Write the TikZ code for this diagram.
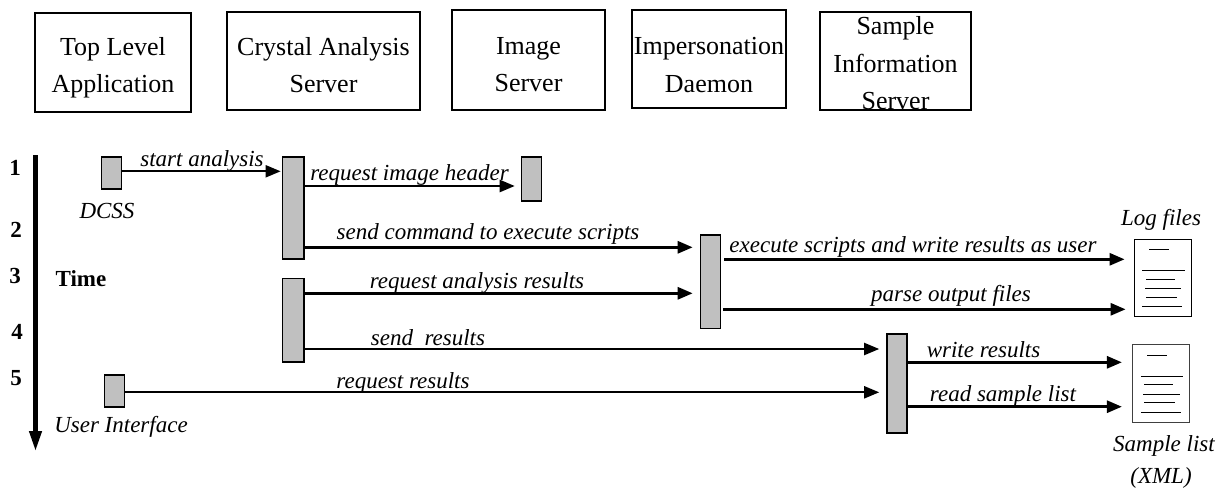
\documentclass[tikz,border=0pt]{standalone}
\usepackage{fontspec}
\setmainfont{Liberation Serif}
\usetikzlibrary{arrows.meta}
\newcommand{\drop}[1]{\rule{0pt}{#1pt}}

\begin{document}
\begin{tikzpicture}[
    x=1pt, y=-1pt,
    box/.style={draw, line width=1.6pt, minimum width=#1, inner sep=0pt, align=center, font=\fontsize{26}{37.5}\selectfont},
    box/.default=155pt,
    bar/.style={draw, line width=1.6pt, fill=bargray, inner sep=0pt, minimum width=20pt},
    doc/.style={draw, line width=1.2pt, inner sep=0pt, minimum width=57pt},
    msg/.style={-{Triangle[length=15pt, width=12pt]}, line width=2.4pt},
    docline/.style={line width=1pt},
    lbl/.style={inner sep=0pt, font=\fontsize{23}{26}\selectfont\itshape},
    tick/.style={inner sep=0pt, font=\fontsize{23}{26}\selectfont\bfseries}
]

% Colors
\definecolor{bargray}{RGB}{192,192,192}

% Page
\useasboundingbox (0,0) rectangle (1217,487);

% Servers
\node[box=156pt, minimum height=99pt] (toplevel) at (113,62.5)
{\drop{29}Top Level\\Application};
\node[box=193pt, minimum height=98pt] (crystal) at (323.5,61)
{\drop{26}Crystal Analysis\\Server};
\node[box=153pt, minimum height=100pt] (image) at (528.5,60)
{\drop{26}Image\\Server};
\node[box=154pt, minimum height=98pt] (daemon) at (709,59)
{\drop{29}Impersonation\\Daemon};
\node[box=151pt, minimum height=98pt] (sample) at (895.5,61)
{\drop{23}Sample\\Information\\Server};

% Time axis
\coordinate (timetop) at (35.5,155);
\coordinate (timeend) at (35.5,451);
\draw[-{Triangle[length=20pt, width=12pt]}, line width=4.2pt] (timetop) -- (timeend);
\node[tick] (t1) at (15,168) {1};
\node[tick] (t2) at (16,230) {2};
\node[tick] (t3) at (15,276) {3};
\node[tick] (t4) at (17,332) {4};
\node[tick] (t5) at (16,378) {5};
\node[tick] (timelabel) at (81,279) {Time};

% Activation bars
\node[bar, minimum height=32.5pt] (dcss) at (111.5,173) {};
\node[bar, minimum height=32.5pt] (ui) at (114.5,391) {};
\node[bar, minimum height=102.5pt, minimum width=21.5pt] (casa) at (293.2,208) {};
\node[bar, minimum height=83.5pt, minimum width=21.5pt] (casb) at (293.2,320.3) {};
\node[bar, minimum height=44pt] (imgbar) at (531.5,178.7) {};
\node[bar, minimum height=93.5pt] (impbar) at (710.5,281.7) {};
\node[bar, minimum height=98.5pt] (samplebar) at (897,383.5) {};

% Files
\node[doc, minimum height=77.5pt] (logdoc) at (1162.7,278) {};
\node[doc, minimum height=78pt, draw=black!75] (listdoc) at (1161,383.3) {};
\foreach \xa/\ya/\len in {15.5/10.7/20, 8.5/31.7/43, 12.5/40.4/29, 11.5/49.7/36, 12.5/58.4/31, 8.5/68/40}
    \draw[docline] (logdoc.north west) ++(\xa,\ya) -- ++(\len,0);
\foreach \xa/\ya/\len in {15.3/11.4/20, 9/32.4/42.4, 12.3/41/29, 11.3/50.7/36.7, 12.3/59/31, 9/69/40}
    \draw[docline] (listdoc.north west) ++(\xa,\ya) -- ++(\len,0);

% Message heights
\coordinate (ystart) at (0,171.3);
\coordinate (yheader) at (0,186);
\coordinate (ycommand) at (0,247.3);
\coordinate (yexecute) at (0,259.3);
\coordinate (yrequest) at (0,293.3);
\coordinate (yparse) at (0,309.3);
\coordinate (ysend) at (0,349);
\coordinate (ywrite) at (0,362.3);
\coordinate (yresults) at (0,392.3);
\coordinate (yread) at (0,406.7);

% Arrows
\draw[msg, line width=2pt, shorten >=1pt] (dcss.east |- ystart) -- (casa.west |- ystart);
\draw[msg, shorten >=6pt] (casa.east |- yheader) -- (imgbar.west |- yheader);
\draw[msg, line width=2.8pt, shorten >=7pt] (casa.east |- ycommand) -- (impbar.west |- ycommand);
\draw[msg, line width=2.8pt, shorten >=7pt] (casb.east |- yrequest) -- (impbar.west |- yrequest);
\draw[msg, line width=2pt, shorten >=7pt] (casb.east |- ysend) -- (samplebar.west |- ysend);
\draw[msg, line width=2pt, shorten >=7pt] (ui.east |- yresults) -- (samplebar.west |- yresults);
\draw[msg, line width=2.8pt, shorten <=3pt, shorten >=9pt] (impbar.east |- yexecute) -- (logdoc.west |- yexecute);
\draw[msg, line width=2.8pt, shorten <=2pt, shorten >=8pt] (impbar.east |- yparse) -- (logdoc.west |- yparse);
\draw[msg, line width=2.8pt, shorten >=10pt] (samplebar.east |- ywrite) -- (listdoc.west |- ywrite);
\draw[msg, line width=2.8pt, shorten >=10pt] (samplebar.east |- yread) -- (listdoc.west |- yread);

% Labels
\node[lbl] (lstart) at (202,161) {start analysis};
\node[lbl] (lheader) at (409.5,175) {request image header};
\node[lbl] (lcommand) at (488,234) {send command to execute scripts};
\node[lbl] (lrequest) at (477,283) {request analysis results};
\node[lbl] (lsend) at (428,338) {send~~results};
\node[lbl] (lresults) at (403,383) {request results};
\node[lbl] (lexecute) at (913,247) {execute scripts and write results as user};
\node[lbl] (lparse) at (951,296) {parse output files};
\node[lbl] (lwrite) at (983.5,350) {write results};
\node[lbl] (lread) at (1003,396) {read sample list};
\node[lbl] (ldcss) at (107,211) {DCSS};
\node[lbl] (lui) at (121,427) {User Interface};
\node[lbl] (llog) at (1161,220) {Log files};
\node[lbl] (llist) at (1164,446) {Sample list};
\node[lbl] (lxml) at (1161,478) {(XML)};

\end{tikzpicture}
\end{document}
